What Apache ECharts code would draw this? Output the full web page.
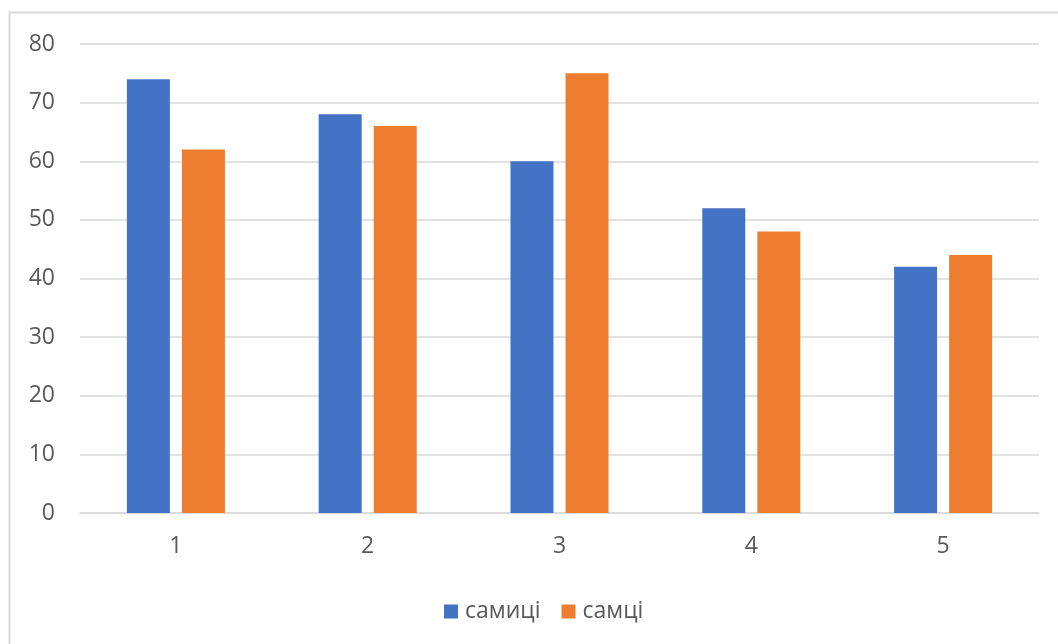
<!DOCTYPE html>
<html>
<head>
<meta charset="utf-8">
<style>
  html, body { margin: 0; padding: 0; background: #fff; }
  #chart { width: 1058px; height: 644px; }
</style>
<script src="https://cdn.jsdelivr.net/npm/echarts@6/dist/echarts.min.js"></script>
</head>
<body>
<div id="chart"></div>
<script>
const categories = ['1', '2', '3', '4', '5'];
const females = [74, 68, 60, 52, 42];   // самиці
const males = [62, 66, 75, 48, 44];     // самці
const yTicks = { min: 0, max: 80, interval: 10 };

const chart = echarts.init(document.getElementById('chart'));
const textColor = '#595959';
const font = "'Open Sans', 'Liberation Sans', sans-serif";

chart.setOption({
  animation: false,
  graphic: [{
    type: 'rect',
    shape: { x: 9.5, y: 12.5, width: 1070, height: 650 },
    style: { fill: 'none', stroke: '#d9d9d9', lineWidth: 2 },
    silent: true
  }],
  grid: { left: 80, right: 19, top: 44, bottom: 131, containLabel: false },
  legend: {
    bottom: 21,
    left: 444,
    padding: 0,
    itemWidth: 14,
    itemHeight: 14,
    itemGap: 21,
    icon: 'rect',
    textStyle: { color: textColor, fontSize: 23, fontFamily: font, padding: [0, 0, 0, 2] },
    data: ['самиці', 'самці']
  },
  xAxis: {
    type: 'category',
    data: categories,
    axisLine: { lineStyle: { color: '#d9d9d9', width: 1.5 } },
    axisTick: { show: false },
    axisLabel: { color: textColor, fontSize: 23, fontFamily: font, margin: 22 }
  },
  yAxis: {
    type: 'value',
    min: yTicks.min,
    max: yTicks.max,
    interval: yTicks.interval,
    axisLine: { show: false },
    axisTick: { show: false },
    splitLine: { lineStyle: { color: '#d9d9d9', width: 1.5 } },
    axisLabel: { color: textColor, fontSize: 23, fontFamily: font, margin: 25 }
  },
  series: [
    {
      name: 'самиці',
      type: 'bar',
      data: females,
      barWidth: 43,
      barGap: '28%',
      itemStyle: { color: '#4472c4' }
    },
    {
      name: 'самці',
      type: 'bar',
      data: males,
      barWidth: 43,
      barGap: '28%',
      itemStyle: { color: '#ed7d31' }
    }
  ]
});
</script>
</body>
</html>
